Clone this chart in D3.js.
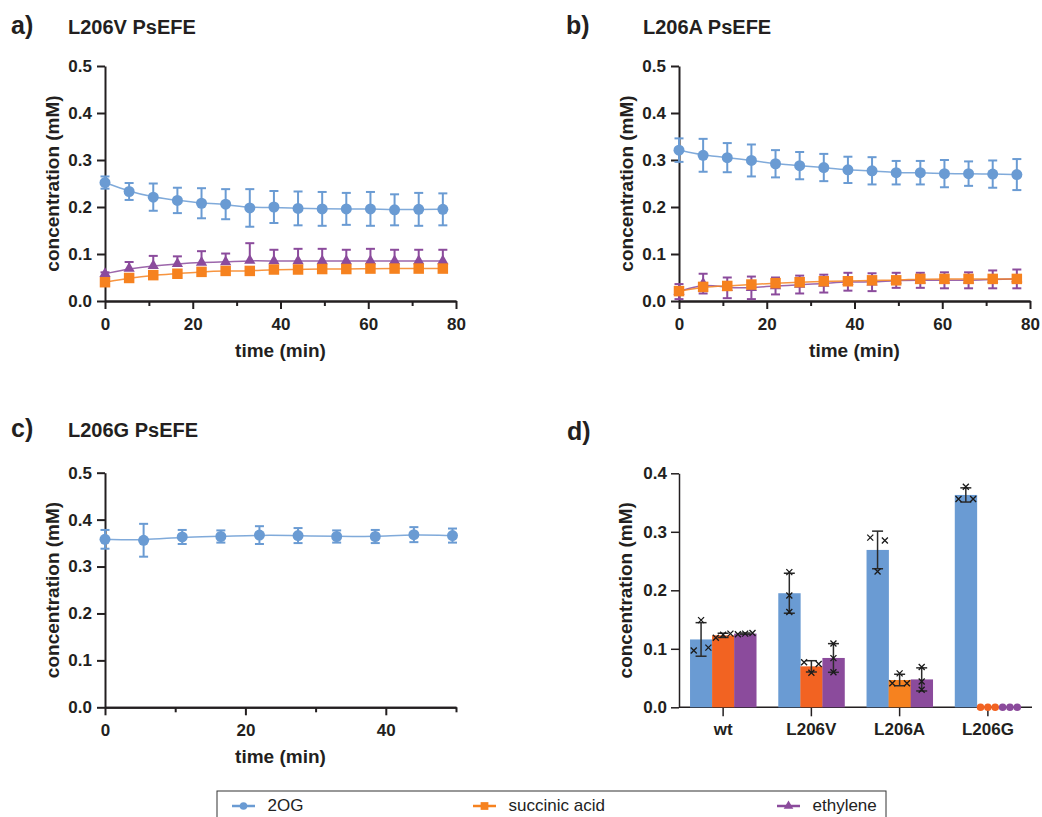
<!DOCTYPE html>
<html><head><meta charset="utf-8">
<script src="https://cdn.jsdelivr.net/npm/d3@7"></script>
<style>body{margin:0;background:#fff;} svg{display:block;font-family:"Liberation Sans",Arial,Helvetica,sans-serif;}</style>
</head><body><svg id="chart" width="1042" height="817"></svg>
<script>
// ---------- data ----------
const timeAB = [0,5.5,11,16.5,22,27.5,33,38.5,44,49.5,55,60.5,66,71.5,77];
const timeC  = [0,5.5,11,16.5,22,27.5,33,38.5,44,49.5];

const a_2OG    = [0.252,0.233,0.221,0.214,0.208,0.206,0.198,0.200,0.197,0.196,0.196,0.196,0.194,0.195,0.195];
const a_2OG_sd = [0.013,0.018,0.029,0.027,0.032,0.032,0.040,0.034,0.036,0.036,0.034,0.036,0.033,0.035,0.034];
const a_succ    = [0.040,0.049,0.055,0.058,0.062,0.064,0.064,0.067,0.067,0.068,0.068,0.069,0.069,0.069,0.069];
const a_succ_sd = [0.004,0.004,0.004,0.004,0.004,0.004,0.004,0.004,0.004,0.004,0.004,0.004,0.004,0.004,0.004];
const a_eth    = [0.058,0.069,0.075,0.079,0.082,0.083,0.086,0.085,0.085,0.085,0.085,0.085,0.085,0.085,0.085];
const a_eth_sd = [0.003,0.014,0.021,0.016,0.024,0.018,0.037,0.024,0.026,0.026,0.024,0.026,0.024,0.024,0.024];

const b_2OG    = [0.321,0.310,0.305,0.299,0.292,0.288,0.284,0.279,0.277,0.273,0.273,0.271,0.271,0.270,0.269];
const b_2OG_sd = [0.025,0.035,0.031,0.034,0.029,0.029,0.029,0.028,0.029,0.025,0.025,0.029,0.026,0.029,0.033];
const b_succ    = [0.021,0.030,0.032,0.035,0.038,0.040,0.042,0.042,0.044,0.044,0.047,0.047,0.047,0.047,0.047];
const b_succ_sd = [0.005,0.005,0.005,0.005,0.005,0.005,0.005,0.005,0.005,0.005,0.005,0.005,0.005,0.005,0.005];
const b_eth    = [0.020,0.037,0.028,0.028,0.032,0.035,0.037,0.041,0.040,0.044,0.044,0.044,0.044,0.046,0.047];
const b_eth_sd = [0.016,0.021,0.022,0.024,0.018,0.019,0.019,0.019,0.019,0.016,0.016,0.017,0.017,0.019,0.020];

const c_2OG    = [0.358,0.356,0.363,0.364,0.367,0.366,0.364,0.364,0.368,0.366];
const c_2OG_sd = [0.020,0.035,0.015,0.013,0.019,0.016,0.013,0.014,0.016,0.015];

const yTicks = [0,0.1,0.2,0.3,0.4,0.5];
const xTicksAB = [0,20,40,60,80];
const xMinorAB = [10,30,50,70];
const xTicksC = [0,20,40];
const xMinorC = [10,30,50];

const groups = ["wt","L206V","L206A","L206G"];
const seriesNames = ["2OG","succinic acid","ethylene"];
const rep_2OG  = [[0.097,0.149,0.102],[0.231,0.191,0.163],[0.290,0.232,0.285],[0.356,0.377,0.356]];
const rep_succ = [[0.119,0.124,0.126],[0.077,0.059,0.074],[0.041,0.058,0.041],[0,0,0]];
const rep_eth  = [[0.125,0.126,0.127],[0.109,0.084,0.060],[0.069,0.044,0.030],[0,0,0]];
const dTicks = [0,0.1,0.2,0.3,0.4];

// ---------- styles ----------
const C = {blue:"#6a9bd3", orange:"#f6821f", orangeBar:"#f26322", purple:"#8b4b9c", ink:"#231f20"};
const barOrange = {"wt":"#f26322","L206V":"#f26322","L206A":"#f6821f","L206G":"#f26322"};

const svg = d3.select("#chart");

function styleAxis(g){
  g.select(".domain").attr("stroke",C.ink).attr("stroke-width",2);
  g.selectAll(".tick line").attr("stroke",C.ink).attr("stroke-width",2);
  g.selectAll(".tick text").attr("fill",C.ink).attr("font-size",17).attr("font-weight","bold");
}

function timePanel(o){
  const x = d3.scaleLinear().domain([0,o.xMax]).range([o.x0,o.x1]);
  const y = d3.scaleLinear().domain([0,0.5]).range([o.y0,o.yT]);
  const gy = svg.append("g").attr("transform",`translate(${o.x0},0)`)
    .call(d3.axisLeft(y).tickValues(yTicks).tickFormat(d3.format(".1f")).tickSize(8).tickSizeOuter(0).tickPadding(5));
  styleAxis(gy);
  const gxm = svg.append("g").attr("transform",`translate(0,${o.y0})`)
    .call(d3.axisBottom(x).tickValues(o.minor).tickFormat("").tickSize(5).tickSizeOuter(0));
  styleAxis(gxm);
  const gx = svg.append("g").attr("transform",`translate(0,${o.y0})`)
    .call(d3.axisBottom(x).tickValues(o.major).tickFormat(d3.format("d")).tickSize(8).tickSizeOuter(0));
  styleAxis(gx);
  gx.selectAll(".tick text").attr("dy",null).attr("y",29);

  svg.append("text").attr("transform",`translate(${o.x0-46},${(o.y0+o.yT)/2}) rotate(-90)`)
    .attr("text-anchor","middle").attr("font-size",19).attr("font-weight","bold").attr("fill",C.ink)
    .text("concentration (mM)");
  svg.append("text").attr("x",(o.x0+o.x1)/2).attr("y",o.y0+56)
    .attr("text-anchor","middle").attr("font-size",19).attr("font-weight","bold").attr("fill",C.ink)
    .text("time (min)");
  svg.append("text").attr("x",o.lx).attr("y",o.ty).attr("font-size",25).attr("font-weight","bold").attr("fill",C.ink).text(o.letter);
  svg.append("text").attr("x",o.tx).attr("y",o.ty).attr("font-size",20).attr("font-weight","bold").attr("fill",C.ink).text(o.title);

  const line = d3.line().x(d=>x(d.t)).y(d=>y(d.v)).curve(d3.curveBasis);
  o.series.forEach(s=>{
    const pts = o.time.map((t,i)=>({t, v:s.v[i], e:s.e[i]}));
    const g = svg.append("g");
    const eb = g.append("g").attr("stroke",s.color).attr("stroke-width",2).attr("fill","none");
    pts.forEach(p=>{
      const xx = x(p.t), y1 = y(p.v+p.e), y2 = s.upOnly ? y(p.v) : y(p.v-p.e);
      eb.append("line").attr("x1",xx).attr("x2",xx).attr("y1",y1).attr("y2",y2);
      eb.append("line").attr("x1",xx-4.5).attr("x2",xx+4.5).attr("y1",y1).attr("y2",y1);
      if(!s.upOnly) eb.append("line").attr("x1",xx-4.5).attr("x2",xx+4.5).attr("y1",y2).attr("y2",y2);
    });
    g.append("path").datum(pts).attr("d",line).attr("fill","none").attr("stroke",s.color).attr("stroke-width",1.5).attr("opacity",0.85);
    const sym = d3.symbol().type(s.shape).size(s.size);
    g.selectAll(".m").data(pts).join("path").attr("d",sym)
      .attr("transform",d=>`translate(${x(d.t)},${y(d.v)})`).attr("fill",s.color);
  });
}

const S2 = (v,e,up)=>({v,e,upOnly:!!up,color:C.blue,shape:d3.symbolCircle,size:95});
const SS = (v,e,up)=>({v,e,upOnly:!!up,color:C.orange,shape:d3.symbolSquare,size:110});
const SE = (v,e,up)=>({v,e,upOnly:!!up,color:C.purple,shape:d3.symbolTriangle,size:55});

timePanel({x0:105,x1:456,y0:301,yT:66,xMax:80,major:xTicksAB,minor:xMinorAB,time:timeAB,
  letter:"a)",title:"L206V PsEFE",lx:11,tx:68,ty:34,
  series:[S2(a_2OG,a_2OG_sd),SE(a_eth,a_eth_sd,true),SS(a_succ,a_succ_sd,true)]});
timePanel({x0:679,x1:1030,y0:301,yT:66,xMax:80,major:xTicksAB,minor:xMinorAB,time:timeAB,
  letter:"b)",title:"L206A PsEFE",lx:566,tx:643,ty:34,
  series:[S2(b_2OG,b_2OG_sd),SE(b_eth,b_eth_sd),SS(b_succ,b_succ_sd)]});
timePanel({x0:105,x1:456,y0:707.3,yT:472.7,xMax:50,major:xTicksC,minor:xMinorC,time:timeC,
  letter:"c)",title:"L206G PsEFE",lx:11,tx:68,ty:437,
  series:[S2(c_2OG,c_2OG_sd)]});

// ---------- panel d ----------
(function(){
  const x0=679,x1=1032,y0=707.3,yT=473.3;
  const x = d3.scaleBand().domain(groups).range([x0,x1]).paddingInner(0.25).paddingOuter(0.125);
  const xs = d3.scaleBand().domain(seriesNames).range([0,x.bandwidth()]);
  const y = d3.scaleLinear().domain([0,0.4]).range([y0,yT]);
  const gy = svg.append("g").attr("transform",`translate(${x0},0)`)
    .call(d3.axisLeft(y).tickValues(dTicks).tickFormat(d3.format(".1f")).tickSize(8).tickSizeOuter(0).tickPadding(4));
  styleAxis(gy);
  gy.select(".domain").attr("stroke-width",1.5);
  gy.selectAll(".tick line").attr("stroke-width",1.5);
  const gx = svg.append("g").attr("transform",`translate(0,${y0})`)
    .call(d3.axisBottom(x).tickSize(9).tickSizeOuter(0));
  styleAxis(gx);
  gx.select(".domain").attr("d",`M${x0},0H${x1}`).attr("stroke-width",1.5);
  gx.selectAll(".tick line").attr("stroke-width",1.5);
  gx.selectAll(".tick text").attr("dy",null).attr("y",28);

  svg.append("text").attr("transform",`translate(${x0-47},${(y0+yT)/2}) rotate(-90)`)
    .attr("text-anchor","middle").attr("font-size",19).attr("font-weight","bold").attr("fill",C.ink)
    .text("concentration (mM)");
  svg.append("text").attr("x",567).attr("y",440).attr("font-size",25).attr("font-weight","bold").attr("fill",C.ink).text("d)");

  const reps = {"2OG":rep_2OG,"succinic acid":rep_succ,"ethylene":rep_eth};
  const col = (s,g)=> s==="2OG"?C.blue : s==="ethylene"?C.purple : barOrange[g];
  const rows = [];
  groups.forEach((g,gi)=>seriesNames.forEach(s=>{
    const r = reps[s][gi];
    rows.push({g,s,r,m:d3.mean(r),sd:d3.deviation(r),cx:x(g)+xs(s)+xs.bandwidth()/2});
  }));
  svg.append("g").selectAll("rect").data(rows).join("rect")
    .attr("x",d=>x(d.g)+xs(d.s)).attr("width",xs.bandwidth()+0.3)
    .attr("y",d=>y(d.m)).attr("height",d=>y0-y(d.m)).attr("fill",d=>col(d.s,d.g));
  const eg = svg.append("g").attr("stroke","#2b2b2b").attr("stroke-width",1.5);
  rows.filter(d=>d.m>0).forEach(d=>{
    const y1=y(d.m+d.sd), y2=y(d.m-d.sd);
    eg.append("line").attr("x1",d.cx).attr("x2",d.cx).attr("y1",y1).attr("y2",y2);
    eg.append("line").attr("x1",d.cx-5.5).attr("x2",d.cx+5.5).attr("y1",y1).attr("y2",y1);
    eg.append("line").attr("x1",d.cx-5.5).attr("x2",d.cx+5.5).attr("y1",y2).attr("y2",y2);
  });
  const step = 7.3;
  const pg = svg.append("g");
  rows.forEach(d=>{
    const py = d.r.map(v=>y(v));
    let crowd=false;
    for(let i=0;i<py.length;i++) for(let j=i+1;j<py.length;j++) if(Math.abs(py[i]-py[j])<7) crowd=true;
    d.r.forEach((v,i)=>{
      const px = d.cx + (crowd ? (i-(d.r.length-1)/2)*step : 0);
      if(v===0){
        pg.append("circle").attr("cx",px).attr("cy",y(v)).attr("r",3.8).attr("fill",col(d.s,d.g));
      } else {
        const h=3;
        pg.append("path").attr("d",`M${px-h},${py[i]-h}L${px+h},${py[i]+h}M${px-h},${py[i]+h}L${px+h},${py[i]-h}`)
          .attr("stroke","#1a1a1a").attr("stroke-width",1.3).attr("fill","none");
      }
    });
  });
})();

// ---------- legend ----------
(function(){
  svg.append("rect").attr("x",217).attr("y",791).attr("width",669).attr("height",60)
    .attr("fill","none").attr("stroke","#333").attr("stroke-width",1);
  const items = [
    {name:"2OG",color:C.blue,shape:d3.symbolCircle,size:45,x:232},
    {name:"succinic acid",color:C.orange,shape:d3.symbolSquare,size:60,x:473},
    {name:"ethylene",color:C.purple,shape:d3.symbolTriangle,size:40,x:777}
  ];
  const ly=806;
  items.forEach(it=>{
    const g=svg.append("g");
    g.append("line").attr("x1",it.x).attr("x2",it.x+23).attr("y1",ly).attr("y2",ly).attr("stroke",it.color).attr("stroke-width",2.5);
    g.append("path").attr("d",d3.symbol().type(it.shape).size(it.size)).attr("transform",`translate(${it.x+11.5},${ly})`).attr("fill",it.color);
    g.append("text").attr("x",it.x+35.5).attr("y",811).attr("font-size",17).attr("fill","#222").text(it.name);
  });
})();
</script></body></html>
